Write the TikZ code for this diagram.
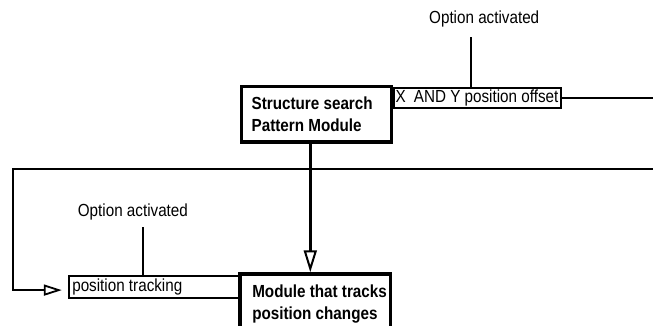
\documentclass[tikz,border=0pt]{standalone}
\usepackage{fontspec}
\setmainfont{Liberation Sans}[FakeStretch=0.87]
\usetikzlibrary{arrows.meta,calc}
\begin{document}
\begin{tikzpicture}[x=1pt,y=-1pt,
  every node/.style={font=\fontsize{17.5pt}{21.7pt}\selectfont},
  % left indent of the text inside a box, natural word spaces, lines never wrap
  lpad/.style={execute at begin node={\leftskip=#1\rightskip=-40pt plus 1fil\spaceskip=0pt\xspaceskip=0pt\relax}},
  module/.style={draw, line width=3.5pt, inner xsep=2pt, inner ysep=0pt, align=left,
    font=\fontsize{17.5pt}{21.7pt}\selectfont\bfseries},
  option/.style={draw, line width=2pt, inner xsep=2pt, inner ysep=0pt, align=left},
  note/.style={inner sep=0pt, anchor=base west},
  link/.style={line width=2pt},
]
\useasboundingbox (0,0) rectangle (653,325);
\clip (0,0) rectangle (653,325);

% option boxes and their labels
\node[option, text width=166.2pt, minimum height=22.2pt, lpad=1.5pt] (tracking) at (153.9,287.1) {position tracking};
\node[option, text width=164pt, inner xsep=1.5pt, minimum height=20pt, lpad=0.3pt] (offset) at (477.2,98.3) {X\hspace{4pt} AND Y position offset};
\node[note] (optA) at (429,23.3) {Option activated};
\node[note] (optB) at (77.7,216) {Option activated};

% modules
\node[module, text width=145.6pt, minimum height=55.3pt, lpad=8pt] (search) at (316.5,114.35) {Structure search\\Pattern Module};
\node[module, text width=146.7pt, minimum height=60pt, lpad=10.3pt] (tracker) at (315.35,304) {Module that tracks\\position changes};

% option switches
\coordinate (tapA) at ([xshift=-6.2pt]offset.north);
\draw[link, shorten >=10pt] (tapA) -- (tapA |- optA.south);
\coordinate (tapB) at ([xshift=-10.9pt]tracking.north);
\draw[link, shorten >=7.3pt] (tapB) -- (tapB |- optB.south);

% offset output
\coordinate (offEnd) at (653,98.3);
\draw[link] (offset.east) -- (offEnd);

% search module feeds the tracker
\coordinate (drop) at ([xshift=-6.2pt]search.south);
\draw[line width=3pt, -{Triangle[open, length=22pt, width=13pt, line width=2pt]}] (drop) -- (drop |- tracker.north);

% feedback loop into position tracking
\coordinate (loopR) at (653,169);
\coordinate (loopL) at (13,169);
\draw[link, shorten >=6pt, -{Triangle[open, length=18pt, width=11pt, line width=1.8pt]}]
  (loopR) -- (loopL) |- ([yshift=-3pt]tracking.west);
\end{tikzpicture}
\end{document}
